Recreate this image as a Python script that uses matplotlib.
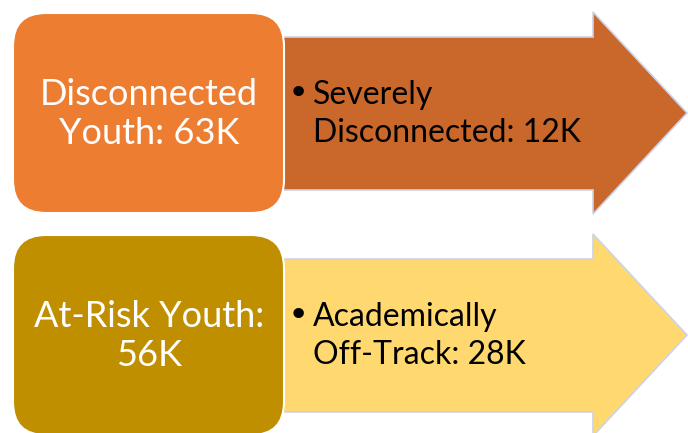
import matplotlib
matplotlib.use("Agg")
import matplotlib.pyplot as plt
from matplotlib.patches import FancyBboxPatch, Polygon

# diagram content
main_labels = ["Disconnected\nYouth: 63K", "At-Risk Youth:\n56K"]
sub_labels = ["Severely\nDisconnected: 12K", "Academically\nOff-Track: 28K"]
box_colors = ["#ED7D31", "#BF8F00"]
arrow_colors = ["#C9682A", "#FFD96F"]

W, H = 688, 433
fig = plt.figure(figsize=(W / 100, H / 100), dpi=100)
ax = fig.add_axes([0, 0, 1, 1])
ax.set_xlim(0, W)
ax.set_ylim(H, 0)
ax.axis("off")

row_top = [13, 235]
box_h = 200
edge = "#CDD2E6"

for i in range(len(main_labels)):
    y0 = row_top[i]
    yc = y0 + box_h / 2
    # arrow behind the box
    pts = [(270, y0 + 24), (593, y0 + 24), (593, y0 - 1), (687, yc),
           (593, y0 + box_h + 1), (593, y0 + box_h - 23), (270, y0 + box_h - 23)]
    ax.add_patch(Polygon(pts, closed=True, facecolor=arrow_colors[i],
                         edgecolor=edge, linewidth=1.2, zorder=1))
    # rounded box
    ax.add_patch(FancyBboxPatch((13, y0), 271, box_h,
                                boxstyle="round,pad=0,rounding_size=33",
                                facecolor=box_colors[i], edgecolor="white",
                                linewidth=1.5, zorder=2))
    ax.text(149, yc + 1, main_labels[i], color="white", fontsize=26,
            family="Lato", ha="center", va="center", linespacing=1.22, zorder=3)
    # bullet text
    ax.text(288, yc - 19, "\u2022", color="black", fontsize=26, family="DejaVu Sans",
            ha="left", va="center", zorder=3)
    ax.text(313, yc + 1, sub_labels[i], color="black", fontsize=23,
            family="Lato", ha="left", va="center", linespacing=1.32, zorder=3)

fig.savefig("out.png", dpi=100, facecolor="white")
